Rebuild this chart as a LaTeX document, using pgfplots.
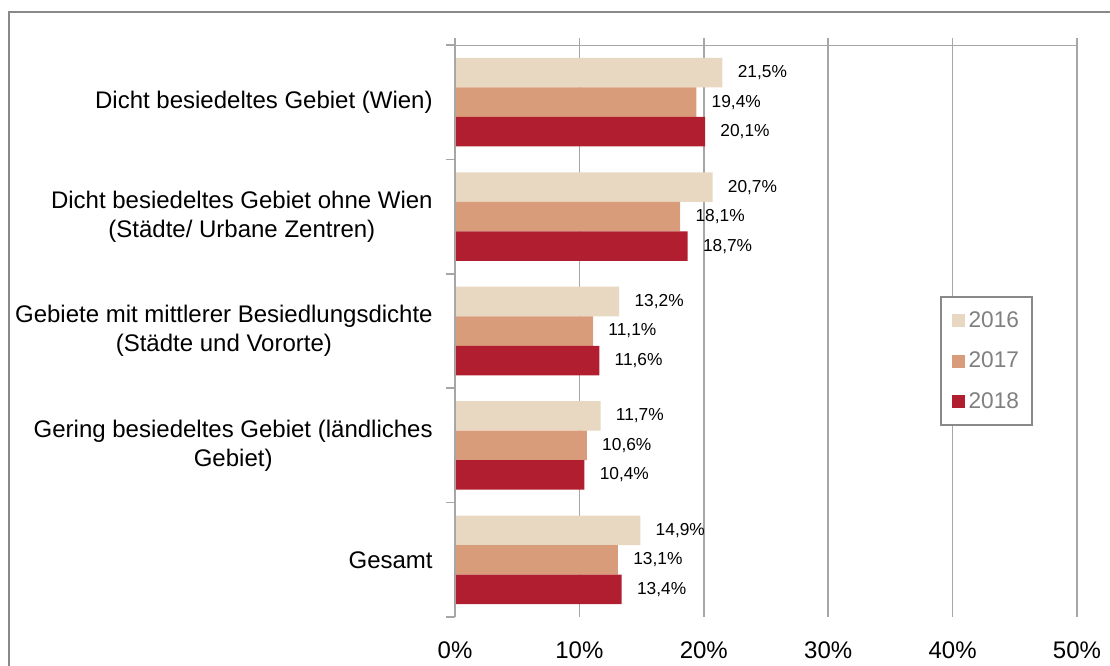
\documentclass[border=0pt]{standalone}
\usepackage{pgfplots}
\pgfplotsset{compat=1.18}
\usepackage{fontspec}
\setmainfont{Liberation Sans}
\definecolor{c16}{RGB}{232,216,194}
\definecolor{c17}{RGB}{217,156,122}
\definecolor{c18}{RGB}{176,30,48}
\definecolor{gridc}{RGB}{166,166,166}
\definecolor{framec}{RGB}{137,137,137}
\definecolor{legt}{RGB}{128,128,128}
\begin{document}
\begin{tikzpicture}
\useasboundingbox (0,0) rectangle (832.5pt,-499.5pt);
\draw[framec, line width=1.5pt] (6.75pt,-510pt) -- (6.75pt,-9pt) -- (845pt,-9pt);
\begin{axis}[
  at={(341.25pt,-462.75pt)}, anchor=south west,
  width=466.5pt, height=429pt, scale only axis,
  xbar=0pt, bar width=0.258,
  xmin=0, xmax=50, ymin=0.5, ymax=5.5, y dir=reverse,
  axis line style={draw=none},
  major tick length=5.25pt, tick align=outside,
  xtick={0,10,...,50}, xtick pos=right, xticklabel pos=left,
  xtick style={draw=gridc, line width=1.1pt},
  xticklabel={\pgfmathprintnumber[assume math mode=true]{\tick}\%},
  xticklabel style={font=\fontsize{18}{21}\selectfont, yshift=-10pt},
  xmajorgrids, major grid style={draw=gridc, line width=1.1pt},
  ytick={1,2,3,4,5}, ytick pos=left,
  ytick style={draw=none},
  yticklabels={Dicht besiedeltes Gebiet (Wien),
    {Dicht besiedeltes Gebiet ohne Wien\\(Städte/ Urbane Zentren)},
    {Gebiete mit mittlerer Besiedlungsdichte\\(Städte und Vororte)},
    {Gering besiedeltes Gebiet (ländliches\\Gebiet)},
    Gesamt},
  yticklabel style={font=\fontsize{18}{21.75}\selectfont, align=center, xshift=-8pt},
  extra y ticks={0.5,1.5,2.5,3.5,4.5,5.5}, extra y tick labels={},
  extra y tick style={major tick length=6.75pt, ytick style={draw=gridc, line width=1.1pt}, ymajorgrids=false},
  nodes near coords={\pgfmathprintnumber[fixed,fixed zerofill,precision=1,use comma,assume math mode=true]{\pgfplotspointmeta}\%},
  nodes near coords style={font=\fontsize{13}{15}\selectfont, anchor=west, xshift=8pt, text=black},
  legend style={at={(0.7797,0.5612)}, anchor=north west, draw=framec, line width=1.5pt,
    font=\fontsize{17}{20}\selectfont, text=legt, inner xsep=8pt, inner ysep=9pt, row sep=13pt,
    /tikz/every odd column/.append style={column sep=1pt}},
  legend cell align=left,
  legend image code/.code={\fill[#1] (0pt,-4.9pt) rectangle (9.75pt,4.9pt);},
]
\addplot[fill=c16, draw=none, bar shift=-0.258] coordinates {(21.5,1) (20.7,2) (13.2,3) (11.7,4) (14.9,5)};
\addplot[fill=c17, draw=none, bar shift=0] coordinates {(19.4,1) (18.1,2) (11.1,3) (10.6,4) (13.1,5)};
\addplot[fill=c18, draw=none, bar shift=0.258] coordinates {(20.1,1) (18.7,2) (11.6,3) (10.4,4) (13.4,5)};
\legend{2016,2017,2018}
\draw[gridc, line width=1.1pt] (axis description cs:0,1) -- (axis description cs:1,1);
\draw[gridc, line width=1.1pt] (axis description cs:0,0) -- (axis description cs:0,1);
\end{axis}
\end{tikzpicture}
\end{document}
